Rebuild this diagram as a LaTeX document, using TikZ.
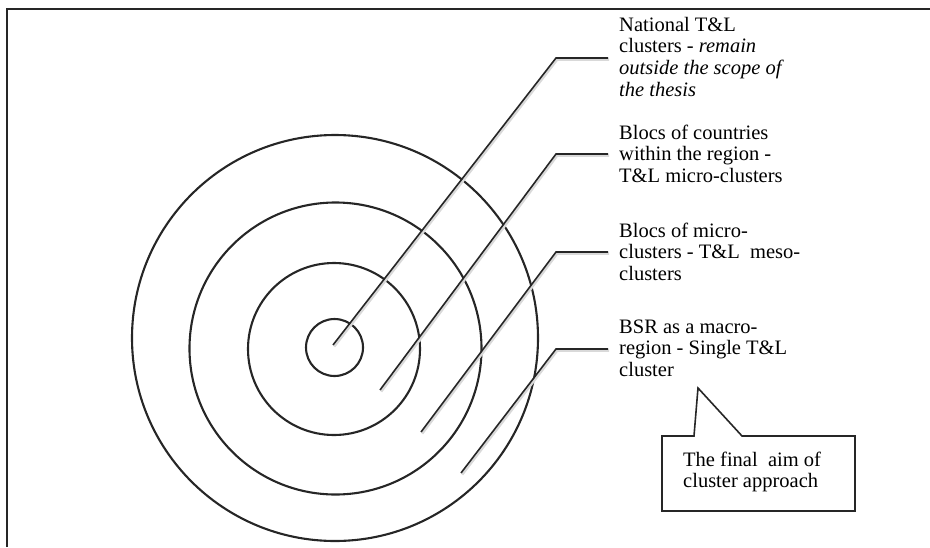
\documentclass[tikz,border=0pt]{standalone}
\usepackage{fontspec}
\setmainfont{Liberation Serif}
\usetikzlibrary{positioning,calc}

\begin{document}
\begin{tikzpicture}[x=1pt,y=-1pt,
		ring/.style={draw=black!85, line width=2.1pt},
		leader/.style={draw=black!85, line width=1.6pt,
			preaction={draw=black!15, line width=2.4pt, transform canvas={shift={(1.2pt,-1.6pt)}}}},
		label/.style={anchor=base west, inner sep=0pt, align=left,
			font=\fontsize{20.5}{21.8}\selectfont}]
		\useasboundingbox (0,0) rectangle (930,547);
		% frame
		\draw[black!85, line width=2.4pt] (7,547) -- (7,9) -- (930,9);
		% rings
		\draw[ring] (334.5,347.5) circle[radius=28.5pt];
		\draw[ring] (334,349) circle[radius=86pt];
		\draw[ring] (335.5,348.5) circle[radius=146pt];
		\draw[ring] (335,338) circle[radius=203pt];
		% labels (base = last line)
		\node[label] (national) at (619,96.4) {National T\&L\\clusters - \textit{remain}\\\textit{outside the scope of}\\\textit{the thesis}};
		\node[label] (blocs) at (619,182.6) {Blocs of countries\\within the region -\\T\&L micro-clusters};
		\node[label] (meso) at (619,280.6) {Blocs of micro-\\clusters - T\&L\ \ meso-\\clusters};
		\node[label] (bsr) at (619,376.6) {BSR as a macro-\\region - Single T\&L\\cluster};
		% leaders
		\coordinate (p1) at (333,345);  \coordinate (k1) at (556,58);  \coordinate (e1) at (608,58);
		\coordinate (p2) at (380,390);  \coordinate (k2) at (556,154); \coordinate (e2) at (608,154);
		\coordinate (p3) at (421,432);  \coordinate (k3) at (556,252); \coordinate (e3) at (608,252);
		\coordinate (p4) at (461,473);  \coordinate (k4) at (556,349); \coordinate (e4) at (608,349);
		\draw[leader] (p1) -- (k1) -- (e1);
		\draw[leader] (p2) -- (k2) -- (e2);
		\draw[leader] (p3) -- (k3) -- (e3);
		\draw[leader] (p4) -- (k4) -- (e4);
		% callout
		\coordinate (tip) at (698,388);
		\draw[black!85, line width=1.6pt] (662,436) -- (694,436) -- (tip) -- (742,436) -- (855,436)
			-- (855,511) -- (662,511) -- cycle;
		\node[label] (aim) at (683,487.8) {The final\ \ aim of\\cluster approach};
	\end{tikzpicture}
\end{document}
